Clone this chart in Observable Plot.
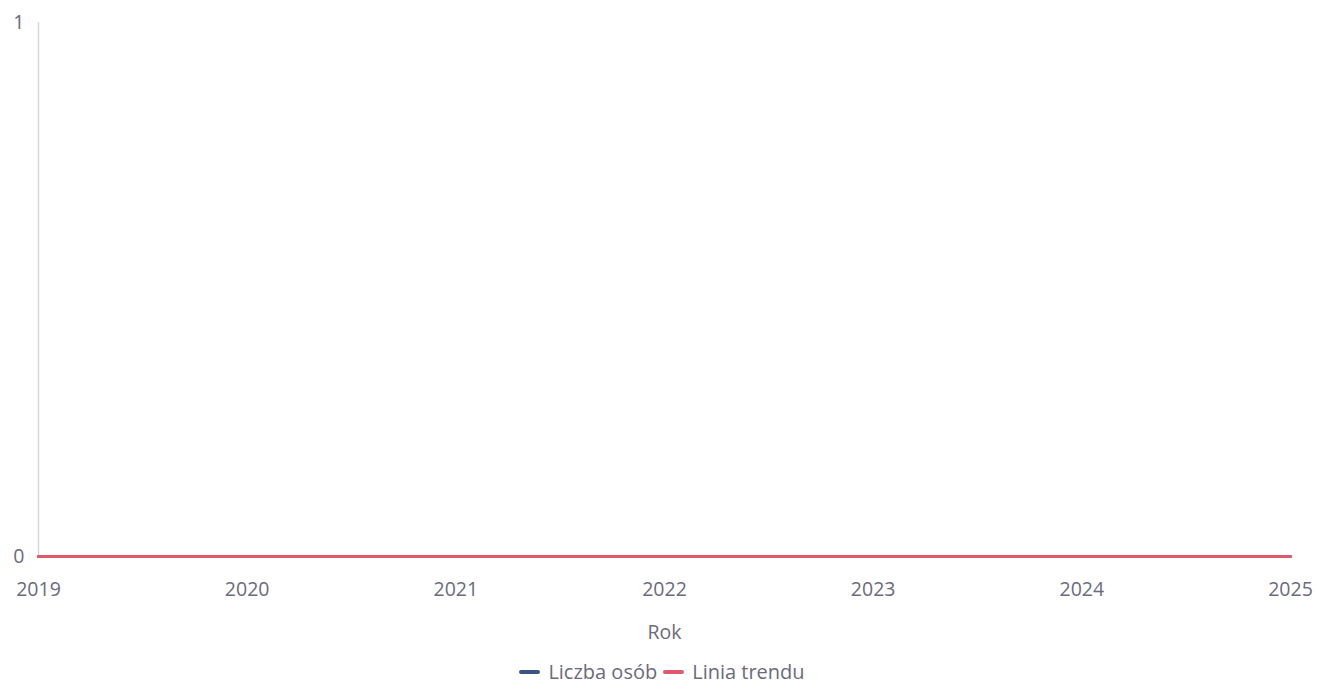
<!DOCTYPE html>
<html>
<head>
<meta charset="utf-8">
<script src="https://cdn.jsdelivr.net/npm/d3@7"></script>
<script src="https://cdn.jsdelivr.net/npm/@observablehq/plot@0.6"></script>
<style>
  html, body { margin: 0; padding: 0; background: #fff; }
  body { width: 1318px; height: 695px; overflow: hidden; font-family: "Open Sans", sans-serif; }
  #legend { display: flex; justify-content: center; align-items: center; gap: 6px; font-size: 20px; color: #6b6b7b; margin-left: 6px; margin-top: 10px; }
  #legend .sw { display: inline-block; width: 21px; height: 4px; border-radius: 2px; margin-right: 8px; vertical-align: middle; }
  #legend .item { display: inline-flex; align-items: center; }
</style>
</head>
<body>
<div id="chart"></div>
<div id="legend"></div>
<script>
const years = [2019, 2020, 2021, 2022, 2023, 2024, 2025];
const liczbaOsob = [0, 0, 0, 0, 0, 0, 0];
const liniaTrendu = [0, 0, 0, 0, 0, 0, 0];
const seriesNames = ["Liczba osób", "Linia trendu"];
const seriesColors = ["#3b5486", "#e0596a"];
const yTicks = [0, 1];

const dataA = years.map((y, i) => ({year: y, value: liczbaOsob[i]}));
const dataB = years.map((y, i) => ({year: y, value: liniaTrendu[i]}));

const chart = Plot.plot({
  width: 1318,
  height: 648,
  marginLeft: 38,
  marginRight: 28,
  marginTop: 22,
  marginBottom: 92,
  style: {fontFamily: "'Open Sans', sans-serif", fontSize: "19.5px", color: "#6b6b7b", background: "#fff"},
  x: {domain: [2019, 2025], ticks: years, tickFormat: "d", tickSize: 0, tickPadding: 26, label: "Rok", labelAnchor: "center", labelArrow: "none", labelOffset: 82},
  y: {domain: [0, 1], ticks: yTicks, tickFormat: "d", tickSize: 0, tickPadding: 14, label: null},
  marks: [
    Plot.ruleX([2019], {stroke: "#d4d6e0", strokeWidth: 1.5}),
    Plot.line(dataA, {x: "year", y: "value", stroke: seriesColors[0], strokeWidth: 3}),
    Plot.line(dataB, {x: "year", y: "value", stroke: seriesColors[1], strokeWidth: 3})
  ]
});
document.getElementById("chart").appendChild(chart);

const legend = document.getElementById("legend");
seriesNames.forEach((n, i) => {
  const item = document.createElement("span");
  item.className = "item";
  const sw = document.createElement("span");
  sw.className = "sw";
  sw.style.background = seriesColors[i];
  item.appendChild(sw);
  item.appendChild(document.createTextNode(n));
  legend.appendChild(item);
});
</script>
</body>
</html>
